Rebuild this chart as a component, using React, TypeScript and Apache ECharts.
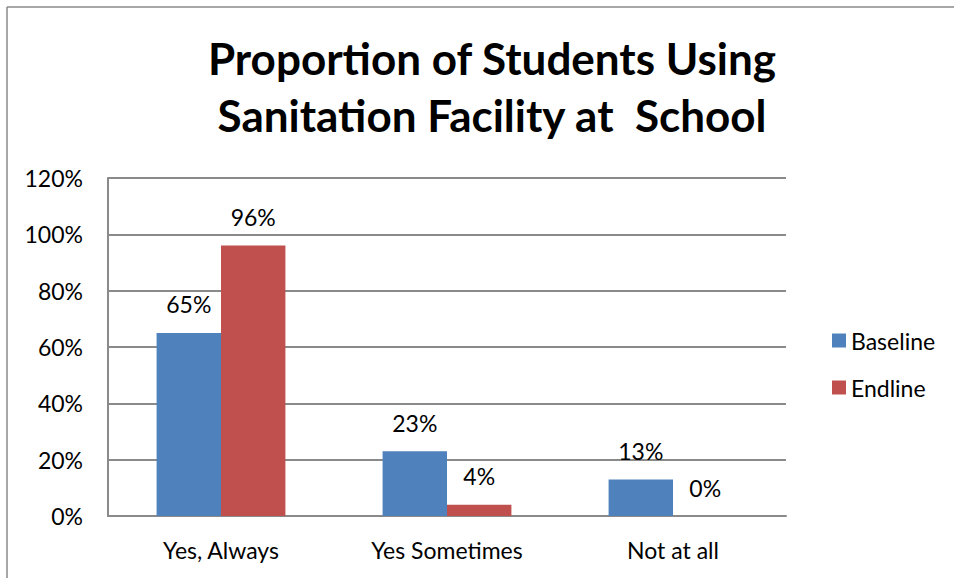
import React, { useEffect, useRef } from "react";
import * as echarts from "echarts";

const categories = ["Yes, Always", "Yes Sometimes", "Not at all"];
const baseline = [0.65, 0.23, 0.13];
const endline = [0.96, 0.04, 0.0];
const seriesNames = ["Baseline", "Endline"];
const titleText = "Proportion of Students Using\nSanitation Facility at  School";

const FONT = "Lato, 'Noto Sans', sans-serif";

export default function App() {
  const ref = useRef<HTMLDivElement>(null);
  useEffect(() => {
    document.body.style.margin = "0";
    const chart = echarts.init(ref.current!, null, { renderer: "svg" });
    const pct = (v: number) => `${Math.round(v * 100)}%`;
    const labelCfg = {
      show: true,
      position: "top" as const,
      distance: 17,
      color: "#000",
      fontSize: 23,
      fontFamily: FONT,
      formatter: (p: any) => pct(p.value),
    };
    chart.setOption({
      animation: false,
      backgroundColor: "#fff",
      textStyle: { fontFamily: FONT },
      title: {
        text: titleText,
        left: 487,
        top: 24,
        textAlign: "center",
        textStyle: {
          fontSize: 44,
          fontWeight: "bold",
          fontFamily: FONT,
          color: "#000",
          lineHeight: 57,
        },
      },
      graphic: [
        {
          type: "line",
          shape: { x1: 7, y1: 7, x2: 954, y2: 7 },
          style: { stroke: "#8a8a8a", lineWidth: 1.5 },
        },
        {
          type: "line",
          shape: { x1: 7, y1: 7, x2: 7, y2: 578 },
          style: { stroke: "#8a8a8a", lineWidth: 1.5 },
        },
      ],
      legend: {
        orient: "vertical",
        left: 827,
        top: 324,
        itemWidth: 14,
        itemHeight: 14,
        itemGap: 24,
        icon: "rect",
        data: seriesNames,
        textStyle: { fontSize: 23, fontFamily: FONT, color: "#000", padding: [0, 0, 0, 0] },
      },
      grid: { left: 108, right: 168, top: 178, bottom: 62, containLabel: false },
      xAxis: {
        type: "category",
        data: categories,
        axisLine: { show: true, lineStyle: { color: "#8a8a8a", width: 2 } },
        axisTick: { show: false },
        axisLabel: { fontSize: 23, color: "#000", margin: 22, fontFamily: FONT },
      },
      yAxis: {
        type: "value",
        min: 0,
        max: 1.2,
        interval: 0.2,
        axisLine: { show: true, lineStyle: { color: "#8a8a8a", width: 2 } },
        axisTick: { show: false },
        axisLabel: {
          fontSize: 23,
          color: "#000",
          margin: 25,
          fontFamily: FONT,
          formatter: (v: number) => pct(v),
        },
        splitLine: { show: true, lineStyle: { color: "#8a8a8a", width: 2 } },
      },
      series: [
        {
          name: seriesNames[0],
          type: "bar",
          data: baseline,
          barGap: "0%",
          barCategoryGap: "43%",
          itemStyle: { color: "#4F81BD" },
          label: labelCfg,
        },
        {
          name: seriesNames[1],
          type: "bar",
          data: endline,
          itemStyle: { color: "#C0504D" },
          label: labelCfg,
        },
      ],
    });
    return () => chart.dispose();
  }, []);
  return (
    <div
      ref={ref}
      style={{ position: "absolute", left: 0, top: 0, width: 954, height: 578 }}
    />
  );
}
